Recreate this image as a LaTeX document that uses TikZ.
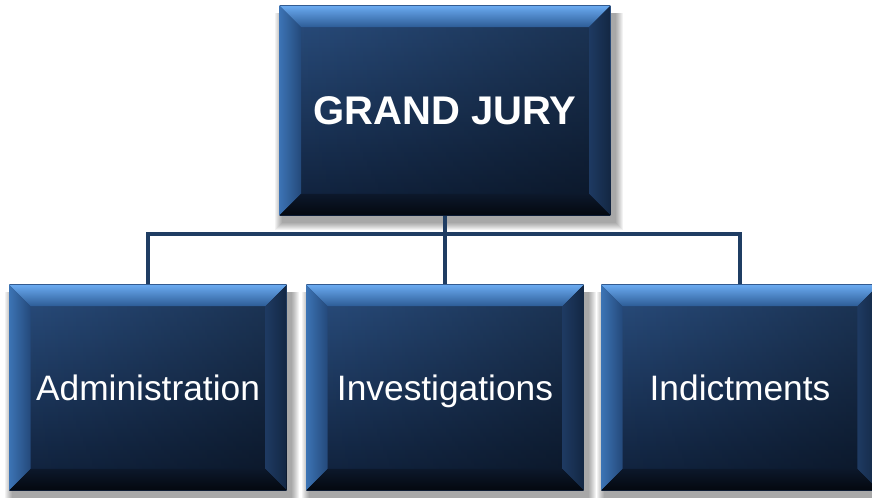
\documentclass[tikz,border=0pt]{standalone}
\usepackage{fontspec}
\setmainfont{Liberation Sans}
\usetikzlibrary{calc,backgrounds,fadings}

\definecolor{faceTop}{HTML}{2B5082}
\definecolor{faceMid}{HTML}{1F3D66}
\definecolor{faceBot}{HTML}{0F203A}
\definecolor{bevTopA}{HTML}{6AAAF0}
\definecolor{bevTopB}{HTML}{2D5C96}
\definecolor{bevLeftA}{HTML}{3C73B4}
\definecolor{bevLeftB}{HTML}{24497A}
\definecolor{bevRightA}{HTML}{1E3A62}
\definecolor{bevRightB}{HTML}{132743}
\definecolor{bevBotA}{HTML}{0C182B}
\definecolor{bevBotB}{HTML}{04080F}
\definecolor{linkBlue}{HTML}{1F3D63}

\tikzfading[name=darkright, left color=transparent!100, right color=transparent!0]

\tikzset{
  bevelled/.style={rectangle, inner sep=0pt, text=white, text depth=0pt,
    top color=faceTop, middle color=faceMid, bottom color=faceBot,
    path picture={
      \coordinate (pnw) at (path picture bounding box.north west);
      \coordinate (pne) at (path picture bounding box.north east);
      \coordinate (psw) at (path picture bounding box.south west);
      \coordinate (pse) at (path picture bounding box.south east);
      \fill[black,opacity=.35,path fading=darkright] (psw) rectangle (pne);
      % four bevel faces
      \shade[top color=bevTopA, bottom color=bevTopB]
        (pnw) -- (pne) -- ($(pne)+(-16pt,-16pt)$) -- ($(pnw)+(16pt,-16pt)$) -- cycle;
      \shade[left color=bevLeftA, right color=bevLeftB]
        (pnw) -- ($(pnw)+(16pt,-16pt)$) -- ($(psw)+(16pt,16pt)$) -- (psw) -- cycle;
      \shade[left color=bevRightA, right color=bevRightB]
        (pne) -- ($(pne)+(-16pt,-16pt)$) -- ($(pse)+(-16pt,16pt)$) -- (pse) -- cycle;
      \shade[top color=bevBotA, bottom color=bevBotB]
        (psw) -- ($(psw)+(16pt,16pt)$) -- ($(pse)+(-16pt,16pt)$) -- (pse) -- cycle;
    }},
  headbox/.style={bevelled, minimum width=248pt, minimum height=157pt,
    text height=21.5pt, font=\fontsize{30}{36}\selectfont\bfseries},
  unitbox/.style={bevelled, minimum width=208pt, minimum height=154pt,
    text height=19pt, font=\fontsize{26.5}{32}\selectfont},
  link/.style={draw=linkBlue, line width=3pt, line join=miter},
}

\begin{document}
\begin{tikzpicture}[x=0.75pt,y=0.75pt]
\useasboundingbox (0,0) rectangle (872,-497);

\node[headbox] (jury)   at (445,-110.5) {GRAND JURY};
\node[unitbox] (admin)  at (148,-387.5) {Administration};
\node[unitbox] (invest) at (445,-387.5) {Investigations};
\node[unitbox] (indict) at (740,-387.5) {Indictments};

\coordinate (bus) at (445,-234);

\begin{scope}[on background layer]
  % soft shadows
  \foreach \n in {jury,admin,invest,indict}
    \foreach \k in {1,...,8}
      \fill[black,opacity=.05] ($(\n.south west)+(4-\k,-7-\k)$) rectangle ($(\n.north east)+(4+\k,-7)$);
  \draw[link] (jury.south) -- (jury.south |- bus);
  \draw[link] (admin.north) |- (bus) -| (indict.north);
  \draw[link] (bus) -- (invest.north);
\end{scope}
\end{tikzpicture}
\end{document}
